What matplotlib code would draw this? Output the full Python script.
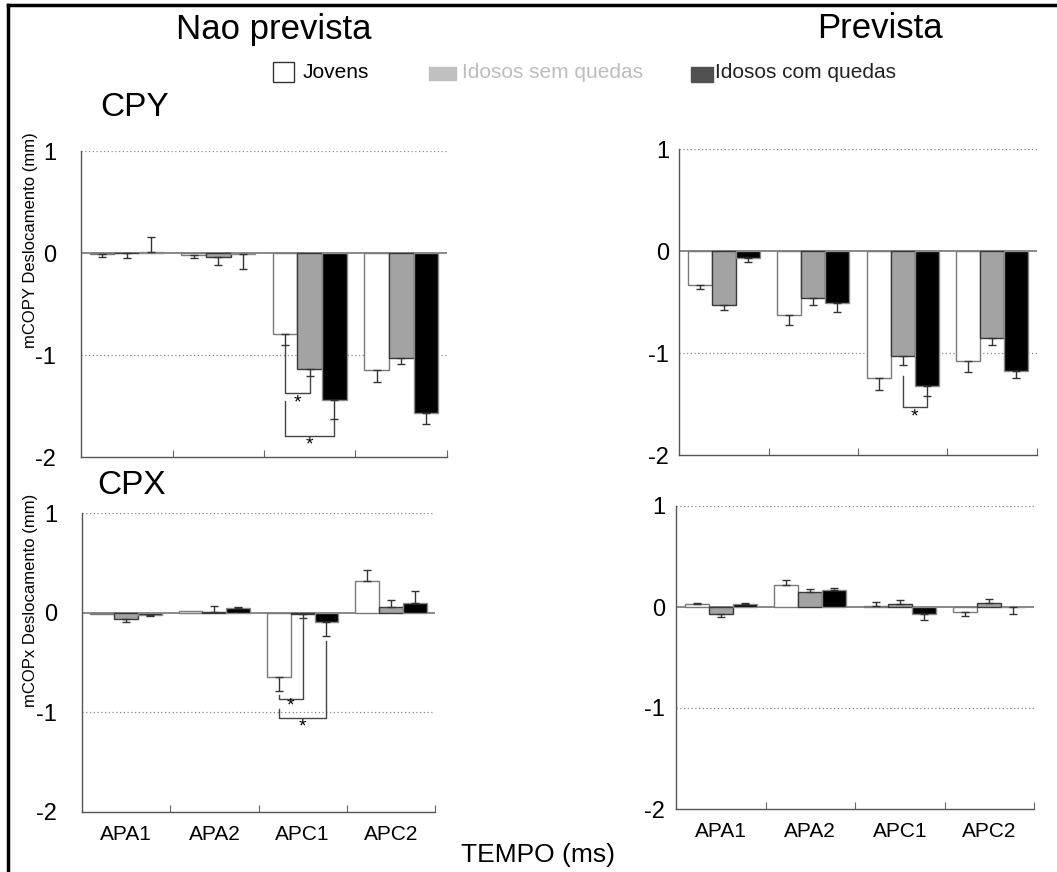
import numpy as np
import matplotlib
matplotlib.use("Agg")
import matplotlib.pyplot as plt
from matplotlib.patches import Rectangle
from matplotlib.lines import Line2D

plt.rcParams["font.family"] = ["Liberation Sans", "DejaVu Sans"]

# Categories and groups
phases = ["APA1", "APA2", "APC1", "APC2"]
groups = ["Jovens", "Idosos sem quedas", "Idosos com quedas"]

# CPY - nao prevista
cpy_nao_jovens = [-0.005, -0.02, -0.79, -1.15]
cpy_nao_sem = [-0.003, -0.04, -1.14, -1.03]
cpy_nao_com = [0.01, -0.01, -1.44, -1.57]
cpy_nao_jovens_err = [0.035, 0.03, 0.11, 0.11]
cpy_nao_sem_err = [0.05, 0.08, 0.07, 0.06]
cpy_nao_com_err = [0.15, 0.15, 0.19, 0.11]

# CPY - prevista
cpy_prev_jovens = [-0.33, -0.63, -1.25, -1.08]
cpy_prev_sem = [-0.53, -0.46, -1.03, -0.85]
cpy_prev_com = [-0.07, -0.51, -1.32, -1.18]
cpy_prev_jovens_err = [0.04, 0.10, 0.11, 0.11]
cpy_prev_sem_err = [0.05, 0.07, 0.09, 0.07]
cpy_prev_com_err = [0.04, 0.09, 0.10, 0.07]

# CPX - nao prevista
cpx_nao_jovens = [-0.01, 0.02, -0.65, 0.32]
cpx_nao_sem = [-0.06, 0.01, -0.01, 0.06]
cpx_nao_com = [-0.02, 0.05, -0.09, 0.10]
cpx_nao_jovens_err = [0.0, 0.0, 0.14, 0.11]
cpx_nao_sem_err = [0.03, 0.06, 0.04, 0.07]
cpx_nao_com_err = [0.01, 0.005, 0.14, 0.12]

# CPX - prevista
cpx_prev_jovens = [0.03, 0.22, 0.01, -0.05]
cpx_prev_sem = [-0.07, 0.15, 0.03, 0.04]
cpx_prev_com = [0.03, 0.17, -0.07, -0.003]
cpx_prev_jovens_err = [0.01, 0.05, 0.04, 0.04]
cpx_prev_sem_err = [0.03, 0.03, 0.04, 0.04]
cpx_prev_com_err = [0.01, 0.02, 0.06, 0.065]

# significance brackets: (phase, group a, group b, top a, top b, bottom, star y)
br_cpy_nao = [(2, 0, 1, -0.91, -1.22, -1.37, -1.47),
              (2, 0, 2, -1.45, -1.64, -1.79, -1.88)]
br_cpy_prev = [(2, 1, 2, -1.23, -1.42, -1.53, -1.63)]
br_cpx_nao = [(2, 0, 1, -0.83, -0.05, -0.87, -0.94),
              (2, 0, 2, -0.97, -0.28, -1.06, -1.15)]
br_cpx_prev = []

face_colors = ["white", "#a3a3a3", "black"]
edge_colors = ["#7a7a7a", "#3a3a3a", "#8a8a8a"]
bar_w = 0.27
offsets = [-0.27, 0.0, 0.27]

W, H = 1057, 872
fig = plt.figure(figsize=(W / 100, H / 100), dpi=100)


def px_axes(left, top, right, bottom):
    return fig.add_axes([left / W, 1 - bottom / H, (right - left) / W, (bottom - top) / H])


def draw_panel(ax, means, errs, brackets, show_labels, ypad):
    x = np.arange(len(phases)) + 0.5
    ax.axhline(0, color="#808080", lw=1.3, zorder=1)
    for yy in [1, -1]:
        ax.axhline(yy, color="#888888", lw=0.9, ls=(0, (1, 2)), zorder=0)
    for g in range(len(groups)):
        m = np.array(means[g])
        e = np.array(errs[g])
        xs = x + offsets[g]
        ax.bar(xs, m, width=bar_w, color=face_colors[g], edgecolor=edge_colors[g],
               linewidth=1.0, zorder=2)
        lower = np.where(m < 0, e, 0)
        upper = np.where(m >= 0, e, 0)
        keep = e > 0
        ax.errorbar(xs[keep], m[keep], yerr=[lower[keep], upper[keep]], fmt="none",
                    ecolor="#333333", elinewidth=1.0, capsize=3, capthick=1.0, zorder=3)
    for (p, ga, gb, ta, tb, bot, sy) in brackets:
        xa = p + 0.5 + offsets[ga]
        xb = p + 0.5 + offsets[gb]
        ax.plot([xa, xa, xb, xb], [ta, bot, bot, tb], color="#444444", lw=1.0, zorder=4)
        ax.text((xa + xb) / 2, sy, "*", ha="center", va="center", fontsize=14,
                color="black", zorder=5)
    ax.set_xlim(0, 4)
    ax.set_ylim(-2, 1)
    ax.set_yticks([1, 0, -1, -2])
    ax.set_yticklabels(["1", "0", "-1", "-2"], fontsize=17)
    ax.tick_params(axis="y", length=0, pad=ypad)
    ax.set_xticks([1, 2, 3, 4])
    ax.set_xticklabels([])
    ax.tick_params(axis="x", which="major", direction="in", length=5, color="#666666")
    ax.set_xticks(x, minor=True)
    if show_labels:
        ax.set_xticklabels(phases, minor=True, fontsize=15)
    else:
        ax.set_xticklabels([], minor=True)
    ax.tick_params(axis="x", which="minor", length=0, pad=9)
    for s in ["top", "right"]:
        ax.spines[s].set_visible(False)
    for s in ["left", "bottom"]:
        ax.spines[s].set_color("#555555")
        ax.spines[s].set_linewidth(1.0)


ax_tl = px_axes(81, 151, 447, 457)
ax_tr = px_axes(679, 149, 1037, 455)
ax_bl = px_axes(82, 513, 435, 812)
ax_br = px_axes(676, 506, 1034, 809)

draw_panel(ax_tl, [cpy_nao_jovens, cpy_nao_sem, cpy_nao_com],
           [cpy_nao_jovens_err, cpy_nao_sem_err, cpy_nao_com_err], br_cpy_nao, False, 18)
draw_panel(ax_tr, [cpy_prev_jovens, cpy_prev_sem, cpy_prev_com],
           [cpy_prev_jovens_err, cpy_prev_sem_err, cpy_prev_com_err], br_cpy_prev, False, 7)
draw_panel(ax_bl, [cpx_nao_jovens, cpx_nao_sem, cpx_nao_com],
           [cpx_nao_jovens_err, cpx_nao_sem_err, cpx_nao_com_err], br_cpx_nao, True, 18)
draw_panel(ax_br, [cpx_prev_jovens, cpx_prev_sem, cpx_prev_com],
           [cpx_prev_jovens_err, cpx_prev_sem_err, cpx_prev_com_err], br_cpx_prev, True, 8)

# titles and labels
title_font = ["Liberation Sans Narrow", "Liberation Sans", "DejaVu Sans"]
fig.text(274 / W, 1 - 30 / H, "Nao prevista", ha="center", va="center", fontsize=25,
         family=title_font)
fig.text(880 / W, 1 - 28 / H, "Prevista", ha="center", va="center", fontsize=25,
         family=title_font)
fig.text(100 / W, 1 - 108 / H, "CPY", ha="left", va="center", fontsize=24)
fig.text(97 / W, 1 - 485 / H, "CPX", ha="left", va="center", fontsize=24)
fig.text(30 / W, 1 - 240 / H, "mCOPY Deslocamento (mm)", rotation=90, ha="center",
         va="center", fontsize=12)
fig.text(30 / W, 1 - 600 / H, "mCOPx Deslocamento (mm)", rotation=90, ha="center",
         va="center", fontsize=12)
fig.text(538 / W, 1 - 855 / H, "TEMPO (ms)", ha="center", va="center", fontsize=19)

# legend drawn by hand
leg_boxes = [(273, 62, 21, 20), (429, 67, 27, 13), (691, 67, 22, 15)]
leg_face = ["white", "#c0c0c0", "#505050"]
leg_edge = ["#333333", "#c0c0c0", "#505050"]
leg_text_x = [303, 462, 715]
leg_text_color = ["black", "#bdbdbd", "#222222"]
for i, name in enumerate(groups):
    bx, by, bw, bh = leg_boxes[i]
    fig.patches.append(Rectangle((bx / W, 1 - (by + bh) / H), bw / W, bh / H,
                                 transform=fig.transFigure, facecolor=leg_face[i],
                                 edgecolor=leg_edge[i], linewidth=1.0))
    fig.text(leg_text_x[i] / W, 1 - 73 / H, name, ha="left", va="center",
             fontsize=15, color=leg_text_color[i])

# frame lines at top and left
fig.add_artist(Line2D([8 / W, 1], [1 - 5 / H, 1 - 5 / H], color="black", lw=2.5,
                      transform=fig.transFigure))
fig.add_artist(Line2D([8 / W, 8 / W], [0, 1 - 5 / H], color="black", lw=2.5,
                      transform=fig.transFigure))

fig.savefig("out.png", dpi=100, facecolor="white")
